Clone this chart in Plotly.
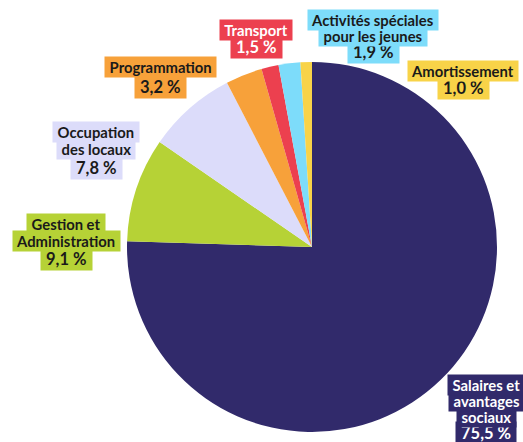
import plotly.graph_objects as go

# ---- data ----
categories = ["Salaires et avantages sociaux", "Gestion et Administration",
              "Occupation des locaux", "Programmation", "Transport",
              "Activités spéciales pour les jeunes", "Amortissement"]
label_lines = [["Salaires et", "avantages", "sociaux"],
               ["Gestion et", "Administration"],
               ["Occupation", "des locaux"],
               ["Programmation"],
               ["Transport"],
               ["Activités spéciales", "pour les jeunes"],
               ["Amortissement"]]
values = [75.5, 9.1, 7.8, 3.2, 1.5, 1.9, 1.0]
colors = ["#312a6b", "#b6d236", "#dcdcfa", "#f7a13a", "#ec404f", "#7ddcfa", "#f8d348"]
text_colors = ["#ffffff", "#1a1a1a", "#1a1a1a", "#1a1a1a", "#ffffff", "#1a1a1a", "#1a1a1a"]

# ---- label placement (pixels from top-left of the window) ----
W, H = 523, 442
label_x = [486, 66, 96, 160, 256, 373, 463]
label_y = [[385, 401, 417, 433],
           [224, 241, 259],
           [132, 149, 168],
           [67, 87],
           [30, 47],
           [20, 36, 52],
           [71, 88]]

def pct(v):
    return f"{v:.1f}".replace(".", ",") + " %"

cx, cy, r = 312, 247, 185
PAD = "\u00a0"

fig = go.Figure(go.Pie(
    labels=categories,
    values=values,
    sort=False,
    direction="clockwise",
    rotation=0,
    marker=dict(colors=colors, line=dict(width=0)),
    textinfo="none",
    hoverinfo="label+percent",
    showlegend=False,
    domain=dict(x=[(cx - r) / W, (cx + r) / W],
                y=[(H - cy - r) / H, (H - cy + r) / H]),
))

annotations = []
for i in range(len(values)):
    lines = label_lines[i] + [pct(values[i])]
    # draw bottom lines first so upper boxes never cover descenders
    for j in reversed(range(len(lines))):
        is_pct = j == len(lines) - 1
        annotations.append(dict(
            text=PAD + lines[j] + PAD,
            x=label_x[i] / W, y=1 - label_y[i][j] / H,
            xref="paper", yref="paper",
            xanchor="center", yanchor="middle",
            showarrow=False,
            bgcolor=colors[i],
            borderpad=1,
            font=dict(family="Lato", size=16.5 if is_pct else 14.8,
                      color=text_colors[i], weight=700),
        ))

fig.update_layout(
    width=W, height=H,
    margin=dict(l=0, r=0, t=0, b=0),
    paper_bgcolor="white",
    plot_bgcolor="white",
    annotations=annotations,
)

fig.write_html("out.html",
               config={"displayModeBar": False},
               post_script="document.body.style.margin='0';"
                           "document.body.style.overflow='hidden';")
